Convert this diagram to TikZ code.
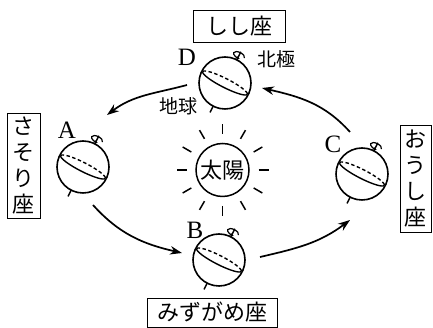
\documentclass[tikz,border=0pt]{standalone}
\usepackage{fontspec}
\setmainfont{Liberation Serif}
\newfontfamily\jp{Noto Sans CJK JP}
\usetikzlibrary{arrows.meta}

\begin{document}
\begin{tikzpicture}[x=1pt,y=1pt,
  globe/.style={circle,draw,line width=1.6pt,minimum size=52pt,inner sep=0pt},
  sign/.style={draw,line width=0.9pt,inner sep=1pt,align=center,
  	font=\jp\fontsize{22}{26}\selectfont},
  letter/.style={font=\fontsize{25}{25}\selectfont,inner sep=0pt},
  tag/.style={font=\jp\fontsize{19}{19}\selectfont,inner sep=0pt},
  orbit/.style={line width=1.7pt,-{Stealth[length=12pt,width=8.5pt]}},
  ]
 \useasboundingbox (0,0) rectangle (433,328);

 % the sun
 \node[circle,draw,line width=1.5pt,minimum size=53pt,inner sep=0pt,
 	font=\jp\fontsize{22}{22}\selectfont] (sun) at (222.5,158) {太陽};
 \foreach \a in {0,30,...,330}
   \draw[line width=1.5pt] ([shift={(\a:36)}]sun.center) -- ([shift={(\a:46)}]sun.center);

 % the earth, four times
 \foreach \n/\x/\y in {A/83/161,B/219/68,C/362/154,D/225/245}{
   \node[globe] (\n) at (\x,\y) {};
   \begin{scope}[shift={(\x,\y)},rotate=-27,line width=1.4pt]
     \draw[dash pattern=on 3.5pt off 2.5pt] (-25,0) arc[start angle=180,end angle=0,x radius=25,y radius=4.5];
     \draw (-25,0) arc[start angle=180,end angle=360,x radius=25,y radius=4.5];
     \draw (0,26) -- (0,35);
     \draw (0,-26) -- (0,-33);
     \draw[line width=1.2pt,-{Stealth[length=3.5pt,width=4pt]}] (0,31) ++(6,0)
       arc[start angle=0,end angle=290,x radius=6,y radius=3];
   \end{scope}
 }

 \node[letter] (la) at (67,198) {A};
 \node[letter] (lb) at (195,98) {B};
 \node[letter] (lc) at (333,184) {C};
 \node[letter] (ld) at (187,271) {D};
 \node[tag] (pole) at (276,269) {北極};
 \node[tag] (earth) at (178,222) {地球};

 % constellations
 \node[sign,minimum width=92pt,minimum height=32pt] (leo) at (239,302) {しし座};
 \node[sign,minimum width=33pt,minimum height=105pt] (scorpius) at (23.5,162.5) {さ\\そ\\り\\座};
 \node[sign,minimum width=31pt,minimum height=107pt] (taurus) at (415.5,149.5) {お\\う\\し\\座};
 \node[sign,minimum width=130pt,minimum height=29pt] (aquarius) at (212.5,15.5) {みずがめ座};

 % orbit arrows
 \coordinate (DA1) at (187,243); \coordinate (DA2) at (107,213);
 \coordinate (AB1) at (93,123);  \coordinate (AB2) at (182,75);
 \coordinate (BC1) at (260,71);  \coordinate (BC2) at (350,108);
 \coordinate (CD1) at (350,196); \coordinate (CD2) at (262,240);
 \draw[orbit] (DA1) to[out=195,in=37] (DA2);
 \draw[orbit] (AB1) to[out=-48,in=167] (AB2);
 \draw[orbit] (BC1) to[out=13,in=217] (BC2);
 \draw[orbit] (CD1) to[out=132,in=-13] (CD2);

\end{tikzpicture}
\end{document}
